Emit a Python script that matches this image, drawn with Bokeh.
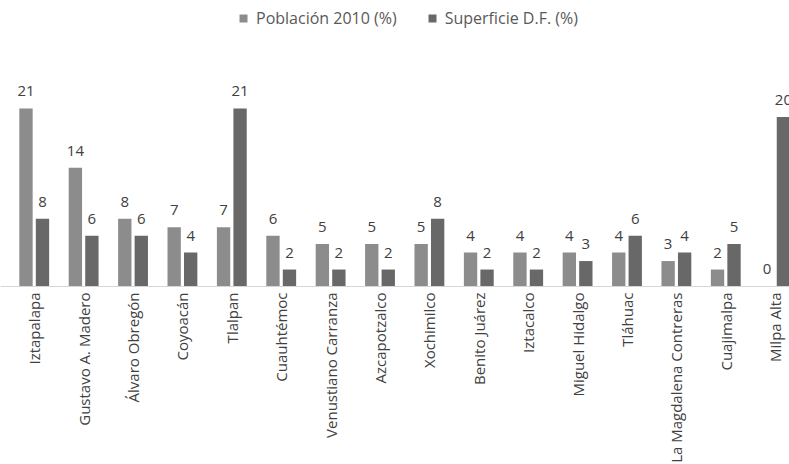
import math
from bokeh.plotting import figure
from bokeh.models import ColumnDataSource, Legend, LegendItem, Span
from bokeh.core.properties import value
from bokeh.embed import file_html
from bokeh.resources import INLINE

# Delegaciones of the Distrito Federal
delegaciones = [
    "Iztapalapa", "Gustavo A. Madero", "Álvaro Obregón", "Coyoacán", "Tlalpan",
    "Cuauhtémoc", "Venustiano Carranza", "Azcapotzalco", "Xochimilco",
    "Benito Juárez", "Iztacalco", "Miguel Hidalgo", "Tláhuac",
    "La Magdalena Contreras", "Cuajimalpa", "Milpa Alta",
]
# Share of 2010 population (%)
poblacion = [21, 14, 8, 7, 7, 6, 5, 5, 5, 4, 4, 4, 4, 3, 2, 0]
# Share of D.F. surface area (%)
superficie = [8, 6, 6, 4, 21, 2, 2, 2, 8, 2, 2, 3, 6, 4, 5, 20]

COL_POB = "#8c8c8c"
COL_SUP = "#686868"
TXT = "#404040"
FONT = "Open Sans"

OFF = 0.167
BW = 0.27

idx = list(range(len(delegaciones)))
src_pob = ColumnDataSource(dict(x=[i - OFF for i in idx], y=poblacion,
                                lbl=[str(v) for v in poblacion]))
src_sup = ColumnDataSource(dict(x=[i + OFF for i in idx], y=superficie,
                                lbl=[str(v) for v in superficie]))
src_cat = ColumnDataSource(dict(x=idx, y=[0] * len(idx), name=delegaciones))

# The frame fills the whole page; the category labels sit below zero.
p = figure(width=789, height=464, output_backend="svg", toolbar_location=None,
           x_range=(-0.683, 15.29), y_range=(-21.0, 33.74),
           min_border_left=0, min_border_right=0, min_border_top=0,
           min_border_bottom=0)
p.outline_line_color = None
p.xgrid.visible = False
p.ygrid.visible = False
p.xaxis.visible = False
p.yaxis.visible = False
p.background_fill_color = "white"
p.border_fill_color = "white"

r1 = p.vbar(x="x", top="y", width=BW, source=src_pob, fill_color=COL_POB,
            line_color=None)
r2 = p.vbar(x="x", top="y", width=BW, source=src_sup, fill_color=COL_SUP,
            line_color=None)

# baseline
p.add_layout(Span(location=0, dimension="width", line_color="#d6d6d6",
                  line_width=1))

# value labels
for src in (src_pob, src_sup):
    p.text(x="x", y="y", text="lbl", source=src, text_align="center",
           text_baseline="bottom", y_offset=-12, text_font=value(FONT),
           text_font_size="15px", text_color=TXT)

# category labels, rotated to read bottom-to-top
p.text(x="x", y="y", text="name", source=src_cat, angle=math.pi / 2,
       text_align="right", text_baseline="middle", y_offset=6,
       text_font=value(FONT), text_font_size="15px", text_color=TXT)

legend = Legend(items=[
    LegendItem(label="Población 2010 (%)", renderers=[r1]),
    LegendItem(label="Superficie D.F. (%)", renderers=[r2]),
], orientation="horizontal", location=(238, 435),
    label_text_font=FONT, label_text_font_size="16px",
    label_text_color="#595959", glyph_width=10, glyph_height=10,
    label_standoff=8, spacing=30, padding=0, margin=0,
    border_line_color=None, background_fill_alpha=0)
p.add_layout(legend)

open("out.html", "w").write(file_html(p, INLINE))
